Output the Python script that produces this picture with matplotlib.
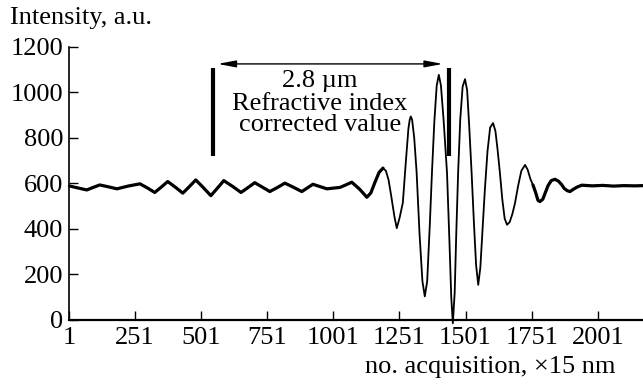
import matplotlib.pyplot as plt

# --- data ---
acq = [1, 35, 69, 95, 118, 150, 183, 225, 270, 298, 326, 350, 375, 404, 432,
       457, 481, 510, 538, 563, 587, 620, 652, 678, 704, 732, 761, 790, 818,
       850, 882, 903, 924, 950, 977, 1000, 1026, 1050, 1071, 1100, 1128,
       1143, 1158, 1174, 1189, 1200, 1210, 1220, 1232, 1241, 1252, 1264, 1275,
       1285, 1290, 1294, 1299, 1307, 1316, 1327, 1338, 1347, 1356, 1366, 1374,
       1383, 1392, 1400, 1408, 1418, 1431, 1440, 1447, 1453, 1460, 1466, 1473,
       1481, 1490, 1499, 1507, 1515, 1524, 1533, 1541, 1549, 1557, 1565, 1574,
       1584, 1594, 1605, 1614, 1622, 1631, 1640, 1649, 1658, 1668, 1678, 1688,
       1700, 1712, 1726, 1736, 1746, 1756, 1766, 1775, 1782, 1793, 1803, 1813,
       1825, 1839, 1852, 1864, 1874, 1885, 1896, 1910, 1925, 1941, 1980, 2020,
       2060, 2100, 2140, 2172]
intensity = [589, 580, 571, 583, 593, 585, 576, 588, 598, 580, 560, 583, 608,
             583, 557, 586, 615, 581, 546, 579, 612, 587, 560, 581, 603, 584,
             564, 582, 601, 583, 564, 580, 596, 586, 576, 579, 582, 594, 605,
             575, 539,
             558, 603, 648, 667, 655, 615, 545, 455, 403, 450, 515, 690,
             840, 880, 894, 880, 800, 650, 380, 170, 103, 170, 420, 646,
             870, 1030, 1077, 1030, 880, 646, 350, 100, -15, 120, 380, 646,
             880, 1025, 1058, 1010, 850, 646, 420, 240, 154, 230, 390, 571,
             740, 845, 865, 830, 750, 646, 530, 445, 418, 430, 465, 513,
             590, 655, 681, 660, 620, 593, 560, 525, 520, 530, 560, 590,
             612, 618, 610, 595, 578, 568, 564, 575, 585, 592, 589, 591,
             588, 590, 589, 590]

x_ticks = [1, 251, 501, 751, 1001, 1251, 1501, 1751, 2001]
y_ticks = [0, 200, 400, 600, 800, 1000, 1200]

# markers and annotation
mark_x = [546, 1438]
mark_y = (720, 1108)
arrow_x = (564, 1415)
arrow_y = 1125

FONT = 'Liberation Serif'
FS = 19

plt.rcParams['font.family'] = FONT

fig = plt.figure(figsize=(6.43, 3.84), dpi=100)
ax = fig.add_axes([0.107, 0.167, 0.893, 0.711])

# main trace
ax.plot(acq, intensity, color='black', lw=1.3, clip_on=False)
# noisy parts look thicker in the original
lo = [i for i, v in enumerate(acq) if v <= 1190]
hi = [i for i, v in enumerate(acq) if v >= 1756]
for idx in (lo, hi):
    ax.plot([acq[i] for i in idx], [intensity[i] for i in idx], color='black',
            lw=2.3, solid_capstyle='round')

# vertical markers
for mx in mark_x:
    ax.plot([mx, mx], mark_y, color='black', lw=3.0, solid_capstyle='butt')

ax.annotate('', xy=(arrow_x[1], arrow_y), xytext=(arrow_x[0], arrow_y),
            arrowprops=dict(arrowstyle='<|-|>,head_length=0.9,head_width=0.17',
                            mutation_scale=12, color='black', lw=1.0,
                            shrinkA=0, shrinkB=0))
ax.text(950, 1052, '2.8 µm', ha='center', va='center', fontsize=FS)
ax.text(950, 950, 'Refractive index', ha='center', va='center', fontsize=FS)
ax.text(950, 858, 'corrected value', ha='center', va='center', fontsize=FS)

# axes styling
ax.set_xlim(1, 2172)
ax.set_ylim(0, 1200)
ax.set_xticks(x_ticks)
ax.set_yticks(y_ticks)
ax.tick_params(direction='in', length=6.5, width=1.0, labelsize=FS)
ax.tick_params(axis='x', pad=5)
ax.tick_params(axis='y', pad=4)
ax.spines['top'].set_visible(False)
ax.spines['right'].set_visible(False)
ax.spines['left'].set_linewidth(1.2)
ax.spines['bottom'].set_linewidth(1.6)

fig.text(0.015, 0.953, 'Intensity, a.u.', ha='left', va='center', fontsize=FS)
fig.text(0.957, 0.044, 'no. acquisition, ×15 nm', ha='right', va='center',
         fontsize=FS)

fig.savefig('out.png', dpi=100)
